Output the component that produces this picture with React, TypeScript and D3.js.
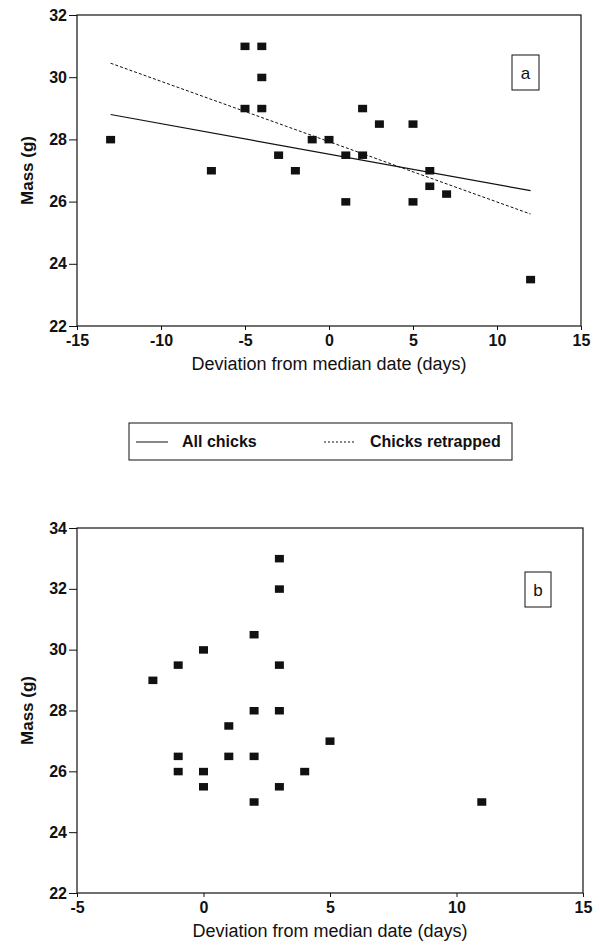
import React, { useEffect, useRef } from 'react';
import * as d3 from 'd3';

// Panel a: all chicks
const topDays = [-13, -7, -5, -4, -4, -5, -4, -3, -2, -1, 0, 1, 2, 1, 2, 3, 5, 5, 6, 6, 7, 12];
const topMass = [28, 27, 31, 31, 30, 29, 29, 27.5, 27, 28, 28, 27.5, 27.5, 26, 29, 28.5, 28.5, 26, 27, 26.5, 26.25, 23.5];

// Regression lines (end points)
const fitDays = [-13, 12];
const fitAllMass = [28.8, 26.35];
const fitRetrapMass = [30.45, 25.6];

// Panel b
const botDays = [3, 3, 2, 0, -1, -2, 3, 2, 3, 1, -1, -1, 0, 0, 1, 2, 2, 3, 4, 5, 11];
const botMass = [33, 32, 30.5, 30, 29.5, 29, 29.5, 28, 28, 27.5, 26.5, 26, 26, 25.5, 26.5, 26.5, 25, 25.5, 26, 27, 25];

const topXTicks = [-15, -10, -5, 0, 5, 10, 15];
const topYTicks = [22, 24, 26, 28, 30, 32];
const botXTicks = [-5, 0, 5, 10, 15];
const botYTicks = [22, 24, 26, 28, 30, 32, 34];

const legendLabels = ['All chicks', 'Chicks retrapped'];

const FONT = "'Liberation Sans', Arial, Helvetica, sans-serif";
const INK = '#111';

type Panel = {
  days: number[];
  mass: number[];
  xDomain: [number, number];
  yDomain: [number, number];
  xTicks: number[];
  yTicks: number[];
  box: { left: number; right: number; top: number; bottom: number };
  letter: string;
  letterBox: { x: number; y: number; w: number; h: number };
};

const App = () => {
  const svgRef = useRef<SVGSVGElement>(null);

  useEffect(() => {
    const svg = d3.select(svgRef.current);
    svg.selectAll('*').remove();

    const drawPanel = (p: Panel) => {
      const x = d3.scaleLinear().domain(p.xDomain).range([p.box.left, p.box.right]);
      const y = d3.scaleLinear().domain(p.yDomain).range([p.box.bottom, p.box.top]);
      const g = svg.append('g');

      // frame
      g.append('rect')
        .attr('x', p.box.left)
        .attr('y', p.box.top)
        .attr('width', p.box.right - p.box.left)
        .attr('height', p.box.bottom - p.box.top)
        .attr('fill', 'none')
        .attr('stroke', INK)
        .attr('stroke-width', 1.2);

      const yAxis = d3.axisLeft(y)
        .tickValues(p.yTicks)
        .tickSize(8)
        .tickPadding(2)
        .tickFormat(d => String(d));
      const ya = g.append('g').attr('transform', `translate(${p.box.left},0)`).call(yAxis);
      ya.select('.domain').remove();
      ya.selectAll('line').attr('stroke', INK);
      ya.selectAll('text')
        .style('font-family', FONT)
        .style('font-size', '16px')
        .style('font-weight', 'bold')
        .attr('fill', INK);

      const xAxis = d3.axisBottom(x)
        .tickValues(p.xTicks)
        .tickSize(4)
        .tickPadding(5)
        .tickFormat(d => String(d));
      const xa = g.append('g').attr('transform', `translate(0,${p.box.bottom})`).call(xAxis);
      xa.select('.domain').remove();
      xa.selectAll('line').attr('stroke', INK);
      xa.selectAll('text')
        .style('font-family', FONT)
        .style('font-size', '16px')
        .style('font-weight', 'bold')
        .attr('fill', INK);

      // axis titles
      g.append('text')
        .attr('x', (p.box.left + p.box.right) / 2)
        .attr('y', p.box.bottom + 44)
        .attr('text-anchor', 'middle')
        .style('font-family', FONT)
        .style('font-size', '18px')
        .attr('fill', INK)
        .text('Deviation from median date (days)');

      g.append('text')
        .attr('transform', `translate(33,${(p.box.top + p.box.bottom) / 2}) rotate(-90)`)
        .attr('text-anchor', 'middle')
        .style('font-family', FONT)
        .style('font-size', '17px')
        .style('font-weight', 'bold')
        .attr('fill', INK)
        .text('Mass (g)');

      // points
      g.selectAll('.pt')
        .data(p.days.map((d, i) => ({ d, m: p.mass[i] })))
        .join('rect')
        .attr('class', 'pt')
        .attr('x', v => x(v.d) - 4.5)
        .attr('y', v => y(v.m) - 3.5)
        .attr('width', 9)
        .attr('height', 7.5)
        .attr('fill', INK);

      // panel letter
      g.append('rect')
        .attr('x', p.letterBox.x)
        .attr('y', p.letterBox.y)
        .attr('width', p.letterBox.w)
        .attr('height', p.letterBox.h)
        .attr('fill', 'none')
        .attr('stroke', INK)
        .attr('stroke-width', 1);
      g.append('text')
        .attr('x', p.letterBox.x + p.letterBox.w / 2)
        .attr('y', p.letterBox.y + p.letterBox.h / 2 + 6)
        .attr('text-anchor', 'middle')
        .style('font-family', FONT)
        .style('font-size', '17px')
        .attr('fill', INK)
        .text(p.letter);

      return { g, x, y };
    };

    const top = drawPanel({
      days: topDays,
      mass: topMass,
      xDomain: [-15, 15],
      yDomain: [22, 32],
      xTicks: topXTicks,
      yTicks: topYTicks,
      box: { left: 77, right: 581, top: 15, bottom: 326 },
      letter: 'a',
      letterBox: { x: 512, y: 55, w: 27, h: 35 },
    });

    const line = d3.line<number>()
      .x((d, i) => top.x(fitDays[i]))
      .y(d => top.y(d));

    top.g.append('path')
      .datum(fitAllMass)
      .attr('d', line)
      .attr('fill', 'none')
      .attr('stroke', INK)
      .attr('stroke-width', 1.2);

    top.g.append('path')
      .datum(fitRetrapMass)
      .attr('d', line)
      .attr('fill', 'none')
      .attr('stroke', INK)
      .attr('stroke-width', 1)
      .attr('stroke-dasharray', '3,2');

    drawPanel({
      days: botDays,
      mass: botMass,
      xDomain: [-5, 15],
      yDomain: [22, 34],
      xTicks: botXTicks,
      yTicks: botYTicks,
      box: { left: 77, right: 583, top: 528, bottom: 893 },
      letter: 'b',
      letterBox: { x: 525, y: 572, w: 26, h: 35 },
    });

    // legend
    const legend = svg.append('g').attr('transform', 'translate(129,423)');
    legend.append('rect')
      .attr('width', 383)
      .attr('height', 37)
      .attr('fill', 'none')
      .attr('stroke', INK)
      .attr('stroke-width', 1);

    const items = legend.selectAll('.item')
      .data(legendLabels)
      .join('g')
      .attr('class', 'item')
      .attr('transform', (d, i) => `translate(${i === 0 ? 7 : 195},0)`);

    items.append('line')
      .attr('x1', 0)
      .attr('x2', 32)
      .attr('y1', 19)
      .attr('y2', 19)
      .attr('stroke', INK)
      .attr('stroke-width', 1)
      .attr('stroke-dasharray', (d, i) => (i === 0 ? null : '2,2'));

    items.append('text')
      .attr('x', 46)
      .attr('y', 24)
      .style('font-family', FONT)
      .style('font-size', '16px')
      .style('font-weight', 'bold')
      .attr('fill', INK)
      .text(d => d);
  }, []);

  return (
    <svg
      ref={svgRef}
      width={600}
      height={945}
      style={{ position: 'absolute', left: 0, top: 0, background: '#fff' }}
    />
  );
};

export default App;
